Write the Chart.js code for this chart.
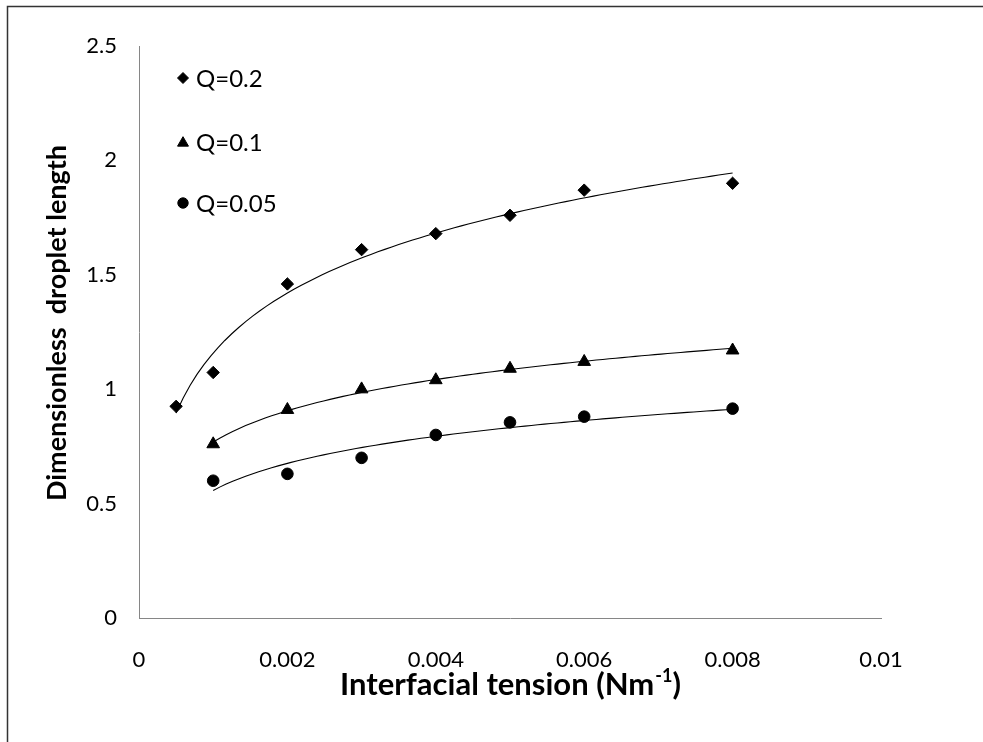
<!DOCTYPE html>
<html>
<head>
<meta charset="utf-8">
<script src="https://cdn.jsdelivr.net/npm/chart.js@4.4.1/dist/chart.umd.min.js"></script>
<style>
  html, body { margin: 0; padding: 0; background: #fff; }
  #wrap { width: 983px; height: 742px; position: relative; }
</style>
</head>
<body>
<div id="wrap"><canvas id="c" width="983" height="742"></canvas></div>
<script>
// ---- data ----
const xQ02 = [0.0005, 0.001, 0.002, 0.003, 0.004, 0.005, 0.006, 0.008];
const yQ02 = [0.925, 1.073, 1.46, 1.61, 1.68, 1.76, 1.87, 1.90];
const xQ01 = [0.001, 0.002, 0.003, 0.004, 0.005, 0.006, 0.008];
const yQ01 = [0.76, 0.91, 1.00, 1.04, 1.09, 1.12, 1.17];
const xQ005 = [0.001, 0.002, 0.003, 0.004, 0.005, 0.006, 0.008];
const yQ005 = [0.60, 0.63, 0.70, 0.80, 0.855, 0.88, 0.915];
const seriesNames = ['Q=0.2', 'Q=0.1', 'Q=0.05'];
const xTicks = [0, 0.002, 0.004, 0.006, 0.008, 0.01];
const yTicks = [0, 0.5, 1, 1.5, 2, 2.5];
const xTitle = 'Interfacial tension (Nm';
const xTitleSup = '-1';
const yTitle = 'Dimensionless  droplet length';

// logarithmic trendline (least squares on ln x), as a spreadsheet would add
function logFit(xs, ys) {
  const lx = xs.map(Math.log);
  const n = xs.length;
  const mx = lx.reduce((a, b) => a + b, 0) / n;
  const my = ys.reduce((a, b) => a + b, 0) / n;
  let sxy = 0, sxx = 0;
  for (let i = 0; i < n; i++) { sxy += (lx[i] - mx) * (ys[i] - my); sxx += (lx[i] - mx) ** 2; }
  const b = sxy / sxx, a = my - b * mx;
  const x0 = Math.min(...xs), x1 = Math.max(...xs);
  const pts = [];
  const steps = 80;
  for (let i = 0; i <= steps; i++) {
    const x = x0 + (x1 - x0) * i / steps;
    pts.push({ x: x, y: a + b * Math.log(x) });
  }
  return pts;
}
const pairs = (xs, ys) => xs.map((x, i) => ({ x: x, y: ys[i] }));

const FONT = 'Lato, "Open Sans", sans-serif';

const markerDefs = [
  { style: 'rectRot', radius: 6.2, legendRadius: 5.5 },
  { style: 'triangle', radius: 7.3, legendRadius: 6.3 },
  { style: 'circle', radius: 5.8, legendRadius: 5.2 }
];

const frameAndTitles = {
  id: 'frameAndTitles',
  beforeDraw(chart) {
    const ctx = chart.ctx;
    ctx.save();
    ctx.fillStyle = '#fff';
    ctx.fillRect(0, 0, chart.width, chart.height);
    ctx.strokeStyle = '#333';
    ctx.lineWidth = 1.5;
    ctx.beginPath();
    ctx.moveTo(7.5, chart.height + 5);
    ctx.lineTo(7.5, 6.5);
    ctx.lineTo(chart.width + 5, 6.5);
    ctx.stroke();
    ctx.restore();
  },
  afterDraw(chart) {
    const ctx = chart.ctx;
    const area = chart.chartArea;
    ctx.save();
    ctx.fillStyle = '#000';
    // x title with superscript
    const big = 'bold 31px ' + FONT, small = 'bold 18px ' + FONT;
    ctx.font = big;
    ctx.textBaseline = 'alphabetic';
    const w1 = ctx.measureText(xTitle).width;
    ctx.font = small;
    const w2 = ctx.measureText(xTitleSup).width;
    ctx.font = big;
    const w3 = ctx.measureText(')').width;
    const total = w1 + w2 + w3;
    const cx = (area.left + area.right) / 2;
    let x = cx - total / 2;
    const base = 695;
    ctx.textAlign = 'left';
    ctx.fillText(xTitle, x, base);
    x += w1;
    ctx.font = small;
    ctx.fillText(xTitleSup, x + 1, base - 13);
    x += w2 + 1;
    ctx.font = big;
    ctx.fillText(')', x, base);
    // y title
    ctx.translate(57, 323);
    ctx.rotate(-Math.PI / 2);
    ctx.textAlign = 'center';
    ctx.textBaseline = 'middle';
    ctx.font = 'bold 27px ' + FONT;
    ctx.fillText(yTitle, 0, 0);
    ctx.restore();

    // legend inside plot area
    ctx.save();
    const legendY = [78, 142, 203];
    ctx.font = '24px ' + FONT;
    ctx.textAlign = 'left';
    ctx.textBaseline = 'middle';
    for (let i = 0; i < seriesNames.length; i++) {
      ctx.fillStyle = '#000';
      ctx.strokeStyle = '#000';
      ctx.lineWidth = 1;
      Chart.helpers.drawPoint(ctx, { pointStyle: markerDefs[i].style, radius: markerDefs[i].legendRadius, rotation: 0, borderWidth: 1 }, 183, legendY[i] + (i === 1 ? 1 : 0));
      ctx.fillStyle = '#000';
      ctx.fillText(seriesNames[i], 196, legendY[i] + 1);
    }
    ctx.restore();
  }
};

const scatterDs = (xs, ys, k) => ({
  type: 'scatter',
  label: seriesNames[k],
  data: pairs(xs, ys),
  pointStyle: markerDefs[k].style,
  pointRadius: markerDefs[k].radius,
  pointBackgroundColor: '#000',
  pointBorderColor: '#000',
  pointBorderWidth: 1,
  showLine: false,
  order: 0
});
const trendDs = (xs, ys, k) => ({
  type: 'line',
  label: seriesNames[k] + ' trend',
  data: logFit(xs, ys),
  borderColor: '#000',
  borderWidth: 1.1,
  pointRadius: 0,
  fill: false,
  tension: 0,
  order: 1
});

new Chart(document.getElementById('c'), {
  data: {
    datasets: [
      scatterDs(xQ02, yQ02, 0),
      scatterDs(xQ01, yQ01, 1),
      scatterDs(xQ005, yQ005, 2),
      trendDs(xQ02, yQ02, 0),
      trendDs(xQ01, yQ01, 1),
      trendDs(xQ005, yQ005, 2)
    ]
  },
  options: {
    responsive: false,
    animation: false,
    devicePixelRatio: 1,
    layout: { padding: { left: 0, top: 46, right: 102, bottom: 0 } },
    plugins: { legend: { display: false }, tooltip: { enabled: false }, title: { display: false } },
    scales: {
      x: {
        type: 'linear',
        min: 0, max: 0.01,
        afterBuildTicks(scale) { scale.ticks = xTicks.map(v => ({ value: v })); },
        afterFit(scale) { scale.height = 124; },
        grid: { display: true, drawOnChartArea: false, drawTicks: false },
        border: { display: true, color: '#868686', width: 1 },
        ticks: {
          padding: 29,
          color: '#000',
          font: { family: FONT, size: 22 },
          maxRotation: 0,
          callback: v => String(v)
        }
      },
      y: {
        type: 'linear',
        min: 0, max: 2.5,
        afterBuildTicks(scale) { scale.ticks = yTicks.map(v => ({ value: v })); },
        afterFit(scale) { scale.width = 139; },
        grid: { display: true, drawOnChartArea: false, drawTicks: false },
        border: { display: true, color: '#868686', width: 1 },
        ticks: {
          padding: 22,
          color: '#000',
          font: { family: FONT, size: 22 },
          callback: v => String(v)
        }
      }
    }
  },
  plugins: [frameAndTitles]
});
</script>
</body>
</html>
